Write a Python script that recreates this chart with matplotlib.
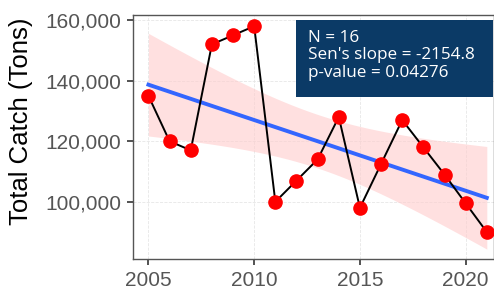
import numpy as np
import matplotlib
matplotlib.use('Agg')
import matplotlib.pyplot as plt
from matplotlib.patches import Rectangle
from matplotlib.ticker import FuncFormatter

years = [2005, 2006, 2007, 2008, 2009, 2010, 2011, 2012, 2013,
         2014, 2015, 2016, 2017, 2018, 2019, 2020, 2021]
catch = [135000, 120000, 117000, 152000, 155000, 158000, 100000, 107000, 114000,
         128000, 98000, 112500, 127000, 118000, 109000, 99500, 90000]
stats_text = "N = 16\nSen's slope = -2154.8\np-value = 0.04276"

x = np.array(years, dtype=float)
y = np.array(catch, dtype=float)

# linear fit + 95% confidence band (like geom_smooth(method='lm'))
coef = np.polyfit(x, y, 1)
xs = np.linspace(x.min(), x.max(), 100)
ys = np.polyval(coef, xs)
n = len(x)
resid = y - np.polyval(coef, x)
s = np.sqrt(np.sum(resid ** 2) / (n - 2))
tval = 2.131
se = s * np.sqrt(1.0 / n + (xs - x.mean()) ** 2 / np.sum((x - x.mean()) ** 2))

plt.rcParams['font.family'] = ['Liberation Sans', 'DejaVu Sans']
fig = plt.figure(figsize=(4.94, 2.89), dpi=100)
ax = fig.add_axes([133 / 494, 30 / 289, 361 / 494, 244 / 289])

ax.fill_between(xs, ys - tval * se, ys + tval * se, color='#ffcccc', alpha=0.6, lw=0, zorder=1)
ax.plot(xs, ys, color='#3366ff', lw=2.8, zorder=2)
ax.plot(x, y, color='black', lw=1.4, zorder=3)
ax.plot(x, y, 'o', color='#ff0000', markersize=9.5, zorder=4)

ax.set_xlim(2004.27, 2021.34)
ax.set_ylim(81100, 161700)
ax.set_xticks([2005, 2010, 2015, 2020])
ax.set_yticks([100000, 120000, 140000, 160000])
ax.yaxis.set_major_formatter(FuncFormatter(lambda v, p: '{:,.0f}'.format(v)))
ax.grid(True, color='#e6e6e6', ls='--', lw=0.6, zorder=0)
ax.set_axisbelow(True)
for sp in ax.spines.values():
    sp.set_color('#555555')
    sp.set_linewidth(1.0)
ax.tick_params(colors='#444444', labelsize=15, length=4.5, width=1.3,
               labelcolor='#555555', pad=4)
fig.text(21 / 494, 1 - 121.5 / 289, 'Total Catch (Tons)', rotation=90,
         ha='center', va='center', fontsize=18.5, color='black')

ax.add_patch(Rectangle((0.4515, 0.664), 0.546, 0.316, transform=ax.transAxes,
                       fc='#0b3a66', ec='none', zorder=5, clip_on=False))
ax.text(0.485, 0.94, stats_text, transform=ax.transAxes, ha='left', va='top',
        color='white', fontsize=12.3, family=['Open Sans', 'DejaVu Sans'],
        linespacing=1.12, zorder=6)

fig.savefig('out.png', dpi=100)
